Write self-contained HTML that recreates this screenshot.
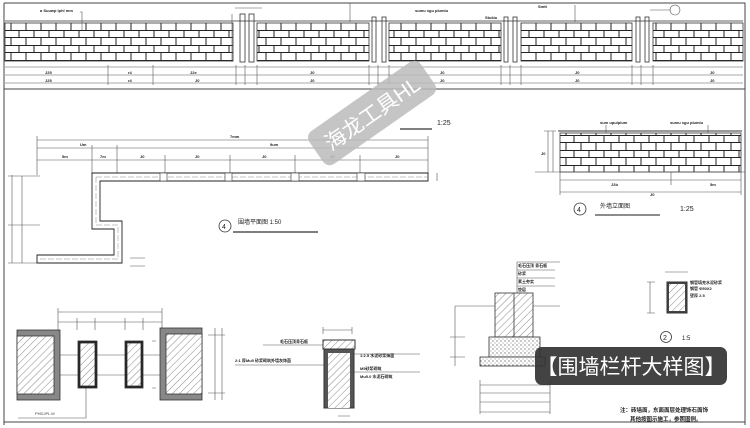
<!DOCTYPE html>
<html><head><meta charset="utf-8"><style>
html,body{margin:0;padding:0;background:#fff;}
svg{display:block;}
text{font-family:"Liberation Sans","Noto Sans CJK SC",sans-serif;}
</style></head><body>
<svg width="750" height="428" viewBox="0 0 750 428" xmlns="http://www.w3.org/2000/svg">
<defs>
<pattern id="brick" width="30" height="15" patternUnits="userSpaceOnUse">
<rect width="30" height="15" fill="#fff"/>
<path d="M0 0.5H30M0 7.5H30M4 0V7.5M19 0V7.5M11 7.5V15M26 7.5V15" stroke="#222" stroke-width="1" fill="none"/>
</pattern>
<pattern id="hatch" width="5" height="5" patternUnits="userSpaceOnUse" patternTransform="rotate(45)">
<rect width="5" height="5" fill="#fff"/><line x1="0" y1="0" x2="0" y2="5" stroke="#555" stroke-width="0.7"/>
</pattern>
<pattern id="dots" width="4" height="4" patternUnits="userSpaceOnUse">
<rect width="4" height="4" fill="#fff"/><circle cx="1" cy="1" r="0.6" fill="#444"/><circle cx="3" cy="3" r="0.5" fill="#666"/>
</pattern>
</defs>
<g stroke="#444" fill="none" stroke-width="1">
<path d="M4 3H745V425M4 3V425M4 422H745"/>
<line x1="4" y1="89" x2="745" y2="89"/>
</g>
<g stroke="#333" stroke-width="0.8">
<rect x="5" y="23" width="228" height="38" fill="url(#brick)"/>
<rect x="257" y="23" width="112" height="38" fill="url(#brick)"/>
<rect x="389" y="23" width="112" height="38" fill="url(#brick)"/>
<rect x="521" y="23" width="111" height="38" fill="url(#brick)"/>
<rect x="653" y="23" width="90" height="38" fill="url(#brick)"/>
<g fill="#fff">
<rect x="240" y="14" width="5" height="48"/><rect x="249" y="14" width="5" height="48"/>
<rect x="372" y="17" width="4" height="45"/><rect x="382" y="17" width="4" height="45"/>
<rect x="504" y="17" width="4" height="45"/><rect x="513" y="17" width="4" height="45"/>
<rect x="636" y="17" width="4" height="45"/><rect x="645" y="17" width="4" height="45"/>
</g>
<line x1="5" y1="21" x2="743" y2="21"/>
</g>
<g stroke="#555" stroke-width="0.6" fill="none">
<path d="M5 67H743M5 75H743M5 83H743"/>
<path d="M108 65V85M153 65V85M236 65V85M245 65V85M257 65V85M369 65V85M378 65V85M389 65V85M501 65V85M510 65V85M521 65V85M632 65V85M641 65V85M653 65V85"/>
<path d="M80 12H82V30M350 3V22M575 5V22M650 10H670"/>
<circle cx="675" cy="10" r="5"/>
<path d="M235 8H262M232 14V62"/>
</g>
<g font-size="4" fill="#222" font-weight="bold">
<text x="40" y="12">a Suuwp lphl mm</text>
<text x="415" y="12">sumu xgu plumlu</text>
<text x="485" y="19">Stuklu</text>
<text x="538" y="8">Smtt</text>
<text x="45" y="74">J25</text><text x="45" y="82">J25</text>
<text x="128" y="74">r4</text><text x="128" y="82">r4</text>
<text x="190" y="74">J2e</text><text x="195" y="82">J0</text>
<text x="310" y="74">J0</text><text x="310" y="82">J0</text>
<text x="440" y="74">J0</text><text x="440" y="82">J0</text>
<text x="575" y="74">J0</text><text x="575" y="82">J0</text>
<text x="710" y="74">J0</text><text x="710" y="82">J0</text>
</g>
<g stroke="#555" stroke-width="0.6" fill="none">
<path d="M37 140H428M37 148H428M37 160H428"/>
<path d="M37 136V175M92 145V175M117 145V175M165 155V175M230 155V175M295 155V175M360 155V175M428 136V175"/>
<path d="M12 175V263M8 176H40M8 225H40M8 263H40M22 176V263"/>
<path d="M437 173V181M130 258H145M130 266H145"/>
</g>
<path d="M92 173H428V181H100V221H122V263H37V255H114V229H92Z" fill="#fff" stroke="#222" stroke-width="0.9"/>
<path d="M96 177H428M96 177V225H118V259H37" fill="none" stroke="#888" stroke-width="0.5" stroke-dasharray="6,2"/>
<g stroke="#333" stroke-width="0.6" fill="#fff">
<rect x="160" y="173" width="7" height="8"/><rect x="225" y="173" width="7" height="8"/><rect x="291" y="173" width="8" height="8"/><rect x="357" y="173" width="8" height="8"/>
</g>
<circle cx="225" cy="226" r="6" fill="none" stroke="#333" stroke-width="0.8"/>
<text x="222" y="229" font-size="7" fill="#222">4</text>
<text x="238" y="224" font-size="6" fill="#222">围墙平面图 1:50</text>
<line x1="233" y1="232" x2="318" y2="232" stroke="#333" stroke-width="1.2"/>
<text x="437" y="125" font-size="7" fill="#222">1:25</text>
<line x1="400" y1="129" x2="432" y2="129" stroke="#333" stroke-width="1.2"/>
<g font-size="4" fill="#222" font-weight="bold">
<text x="230" y="138">7mm</text><text x="80" y="146">Um</text><text x="270" y="146">9um</text>
<text x="62" y="158">5m</text><text x="100" y="158">7m</text><text x="140" y="158">J0</text><text x="195" y="158">J0</text><text x="262" y="158">J0</text><text x="330" y="158">J0</text><text x="395" y="158">J0</text>
</g>
<rect x="560" y="133" width="181" height="39" fill="url(#brick)" stroke="#333" stroke-width="0.8"/>
<line x1="558" y1="131" x2="742" y2="131" stroke="#333"/>
<g stroke="#555" stroke-width="0.6" fill="none">
<path d="M535 172H745M560 180H741M560 192H741M560 172V195M671 172V185M741 172V195M548 131V172M553 131V172M544 131H556M606 125V133M708 125V133"/>
</g>
<g font-size="4" fill="#222" font-weight="bold"><text x="600" y="124">sum upulplum</text><text x="670" y="124">sumu xgu plumlu</text><text x="611" y="186">J2b</text><text x="710" y="186">5m</text><text x="650" y="196">J0</text><text x="541" y="155">J0</text></g>
<circle cx="580" cy="209" r="6" fill="none" stroke="#333" stroke-width="0.8"/>
<text x="577" y="212" font-size="7" fill="#222">4</text>
<text x="600" y="208" font-size="6" fill="#222">外墙立面图</text>
<text x="680" y="211" font-size="7" fill="#222">1:25</text>
<line x1="595" y1="215" x2="660" y2="215" stroke="#666" stroke-width="1.5"/>
<g stroke="#555" stroke-width="0.6" fill="none">
<path d="M58 312H162M58 322H162M58 308V330M77 318V330M95 318V330M125 318V330M143 318V330M162 308V330M215 328V400M222 328V400M208 335H225M208 393H225"/>
<path d="M60 355H78M60 375H78M97 355H125M97 375H125M143 355H160M143 375H160M152 341H156M152 388H156"/>
<path d="M86 388V418H18"/>
</g>
<g stroke="#333" stroke-width="0.8">
<rect x="17" y="330" width="43" height="70" fill="#888"/><rect x="17" y="336" width="37" height="58" fill="url(#hatch)"/>
<rect x="160" y="328" width="42" height="72" fill="#888"/><rect x="166" y="334" width="36" height="60" fill="url(#hatch)"/>
<rect x="78" y="341" width="19" height="47" fill="#222"/><rect x="80" y="343" width="15" height="43" fill="url(#hatch)"/>
<rect x="125" y="341" width="18" height="47" fill="#222"/><rect x="127" y="343" width="14" height="43" fill="url(#hatch)"/>
</g>
<text x="35" y="415" font-size="4" fill="#444">PHDJPL M</text>
<rect x="323" y="340" width="32" height="9" fill="url(#hatch)" stroke="#333"/>
<rect x="324" y="349" width="30" height="59" fill="#555" stroke="#333"/>
<rect x="328" y="353" width="22" height="55" fill="url(#hatch)"/>
<g stroke="#555" stroke-width="0.6" fill="none"><path d="M323 330H352M323 327V334M352 327V334M263 345H323M235 365H324M354 354H420M354 372H420M338 416H350"/></g>
<g font-size="4" fill="#222" font-weight="bold"><text x="280" y="343">毛石压顶青石板</text><text x="235" y="362">2:1 厚Mu5 砂浆砌筑外墙灰饰面</text><text x="360" y="357">1:2.5 水泥砂浆抹面</text><text x="360" y="370">M5砂浆砌筑</text><text x="360" y="378">Mu5.0 水泥石砌筑</text></g>
<g stroke="#555" stroke-width="0.6" fill="none"><path d="M517 262V293M517 262H560M517 270H555M517 278H555M517 286H555M455 306H495M533 306H560M455 306V366M450 337H465M450 357H465M480 385H550M480 393H550M480 402H550M480 412H550M480 380V414M550 380V414"/></g>
<g stroke="#333" stroke-width="0.8">
<rect x="495" y="293" width="38" height="44" fill="url(#hatch)"/>
<line x1="514" y1="293" x2="514" y2="337"/>
<rect x="489" y="337" width="51" height="20" fill="url(#dots)"/>
<rect x="480" y="357" width="65" height="9" fill="url(#dots)"/>
</g>
<g font-size="4" fill="#222" font-weight="bold"><text x="518" y="267">毛石压顶 青石板</text><text x="518" y="275">砂浆</text><text x="518" y="283">素土夯实</text><text x="518" y="291">垫层</text></g>
<rect x="667" y="282" width="20" height="31" fill="#444" stroke="#333"/><rect x="669" y="284" width="16" height="27" fill="url(#hatch)"/>
<g stroke="#555" stroke-width="0.6" fill="none"><path d="M665 272H688M650 282V313M647 282H655M647 313H655"/></g>
<g font-size="4" fill="#222" font-weight="bold"><text x="690" y="284">钢管填充水泥砂浆</text><text x="690" y="290">钢管 Φ50X2</text><text x="690" y="297">壁厚 2.5</text></g>
<circle cx="666" cy="337" r="5.5" fill="none" stroke="#333" stroke-width="0.8"/>
<text x="663" y="340" font-size="7" fill="#222">2</text>
<text x="682" y="340" font-size="6" fill="#222">1:5</text>
<g font-size="5.5" fill="#222" font-weight="bold"><text x="620" y="412">注：砖墙面，东面面层处理饰石面饰</text><text x="630" y="421">其他按图示施工，参照图例。</text></g>
<rect x="535" y="347" width="192" height="38" rx="7" fill="#333" fill-opacity="0.92"/>
<text x="631" y="374" font-size="21" fill="#fff" text-anchor="middle">【围墙栏杆大样图】</text>
<g transform="translate(372,113) rotate(-35)">
<rect x="-68" y="-20" width="136" height="40" rx="8" fill="#bbb" fill-opacity="0.85"/>
<text x="0" y="8" font-size="21" fill="#fff" text-anchor="middle">海龙工具HL</text>
</g>
</svg>
</body></html>
